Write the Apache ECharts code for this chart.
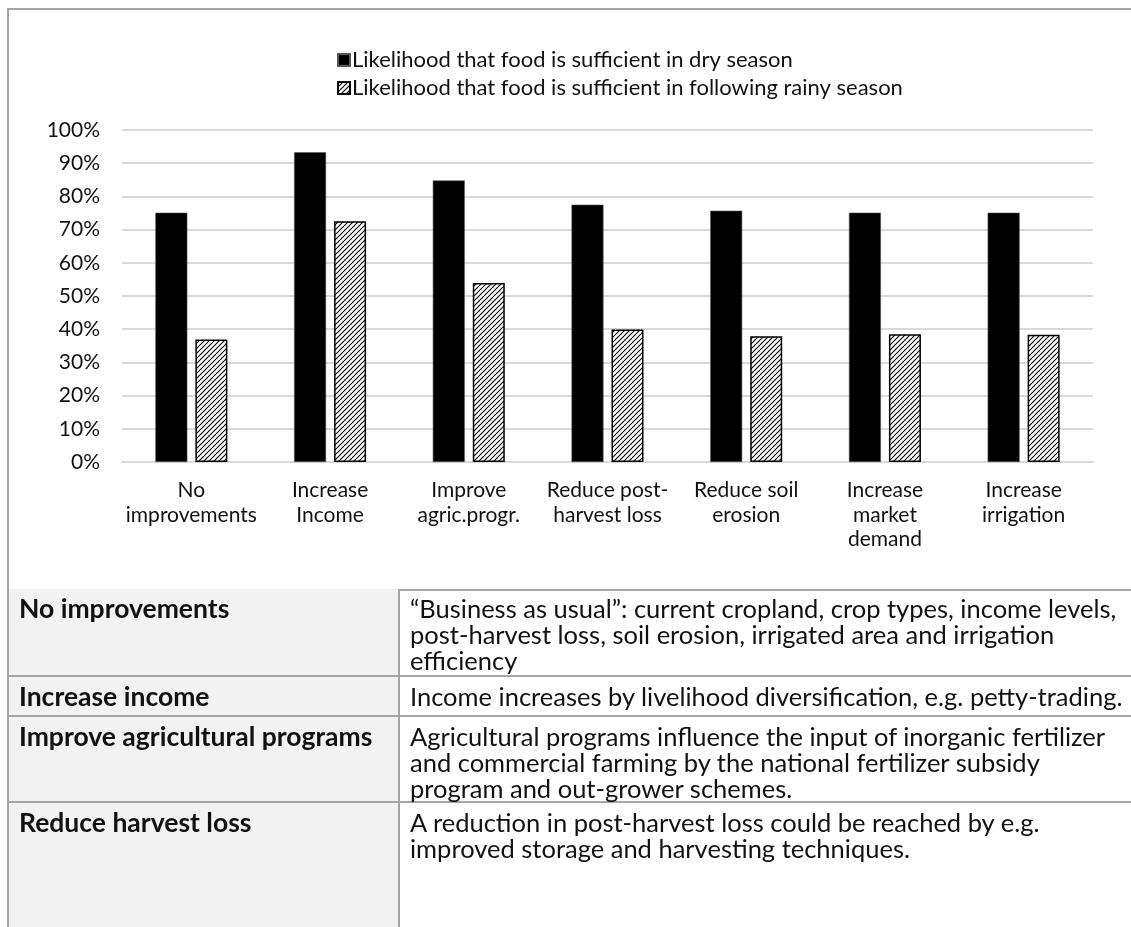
<!DOCTYPE html>
<html>
<head>
<meta charset="utf-8">
<script src="https://cdn.jsdelivr.net/npm/echarts@6/dist/echarts.min.js"></script>
<style>
  html, body { margin: 0; padding: 0; background: #fff; width: 1131px; height: 927px; overflow: hidden; font-family: Lato, "Noto Sans", sans-serif; }
  #frame { position: absolute; left: 7px; top: 8px; width: 1140px; height: 579px; border-left: 2px solid #a5a5a5; border-top: 2px solid #a5a5a5; border-bottom: 2px solid #a5a5a5; }
  #chart { position: absolute; left: 0; top: 0; width: 1131px; height: 590px; }
  table { position: absolute; left: 7px; top: 589px; border-collapse: collapse; width: 1131px; table-layout: fixed; font-family: Lato, sans-serif; font-size: 25.5px; line-height: 26px; color: #111; }
  td { border: 2px solid #a5a5a5; border-top: none; vertical-align: top; padding: 6px 0 0 10px; }
  td.h { background: #f2f2f2; font-weight: bold; font-size: 26.5px; }
</style>
</head>
<body>
<div id="frame"></div>
<div id="chart"></div>
<table id="tbl"><colgroup><col style="width:391px"><col style="width:740px"></colgroup></table>
<script>
// ---- data ----
const categories = ['No\nimprovements', 'Increase\nIncome', 'Improve\nagric.progr.', 'Reduce post-\nharvest loss', 'Reduce soil\nerosion', 'Increase\nmarket\ndemand', 'Increase\nirrigation'];
const dryName = 'Likelihood that food is sufficient in dry season';
const rainyName = 'Likelihood that food is sufficient in following rainy season';
const dryValues = [75.1, 93.3, 84.8, 77.5, 75.7, 75.1, 75.1];
const rainyValues = [36.9, 72.5, 53.9, 39.9, 37.9, 38.5, 38.3];
const yTicks = [0, 10, 20, 30, 40, 50, 60, 70, 80, 90, 100];
const tableHeads = ['No improvements', 'Increase income', 'Improve agricultural programs', 'Reduce harvest loss'];
const tableTexts = [
  '\u201cBusiness as usual\u201d: current cropland, crop types, income levels, post-harvest loss, soil erosion, irrigated area and irrigation efficiency',
  'Income increases by livelihood diversification, e.g. petty-trading.',
  'Agricultural programs influence the input of inorganic fertilizer and commercial farming by the national fertilizer subsidy program and out-grower schemes.',
  'A reduction in post-harvest loss could be reached by e.g. improved storage and harvesting techniques.'
];
const rowHeights = [87, 40, 85, 140];

// ---- table ----
const tbl = document.getElementById('tbl');
tableHeads.forEach((h, i) => {
  const tr = document.createElement('tr');
  tr.style.height = rowHeights[i] + 'px';
  const a = document.createElement('td'); a.className = 'h'; a.textContent = h;
  const b = document.createElement('td');
  // keep hyphenated words together, as in the reference
  tableTexts[i].split(' ').forEach((w, k) => {
    if (k > 0) b.appendChild(document.createTextNode(' '));
    const s = document.createElement('span');
    s.style.whiteSpace = 'nowrap';
    s.textContent = w;
    b.appendChild(s);
  });
  tr.appendChild(a); tr.appendChild(b); tbl.appendChild(tr);
});

// ---- hatch pattern ----
const pc = document.createElement('canvas');
pc.width = 5; pc.height = 5;
const g = pc.getContext('2d');
g.fillStyle = '#fff'; g.fillRect(0, 0, 5, 5);
g.strokeStyle = '#000'; g.lineWidth = 1.1;
g.beginPath();
g.moveTo(-1, 6); g.lineTo(6, -1);
g.moveTo(-1, 1); g.lineTo(1, -1);
g.moveTo(4, 6); g.lineTo(6, 4);
g.stroke();

const chart = echarts.init(document.getElementById('chart'), null, { renderer: 'canvas' });
chart.setOption({
  animation: false,
  textStyle: { fontFamily: 'Lato' },
  legend: {
    orient: 'vertical', left: 332, top: 44, itemWidth: 12, itemHeight: 12, itemGap: 6,
    textStyle: { fontSize: 22, color: '#111', padding: [0, 0, 0, -3] },
    data: [{ name: dryName, icon: 'rect' }, { name: rainyName, icon: 'rect' }]
  },
  grid: { left: 122, right: 38, top: 130, bottom: 128, containLabel: false },
  xAxis: {
    type: 'category', data: categories,
    axisLine: { show: true, lineStyle: { color: '#d9d9d9', width: 2 } },
    axisTick: { show: false },
    axisLabel: { fontSize: 21, color: '#111', lineHeight: 24.5, margin: 16, interval: 0 }
  },
  yAxis: {
    type: 'value', min: yTicks[0], max: yTicks[yTicks.length - 1], interval: 10,
    axisLine: { show: false }, axisTick: { show: false },
    splitLine: { lineStyle: { color: '#d9d9d9', width: 2 } },
    axisLabel: { fontSize: 21, color: '#111', margin: 22, formatter: '{value}%' }
  },
  series: [
    { name: dryName, type: 'bar', data: dryValues, barWidth: 32, barGap: '25%',
      itemStyle: { color: '#000', borderColor: '#555', borderWidth: 0.6 } },
    { name: rainyName, type: 'bar', data: rainyValues, barWidth: 32,
      itemStyle: { color: { image: pc, repeat: 'repeat' }, borderColor: '#000', borderWidth: 1.5 } }
  ]
});
</script>
</body>
</html>
